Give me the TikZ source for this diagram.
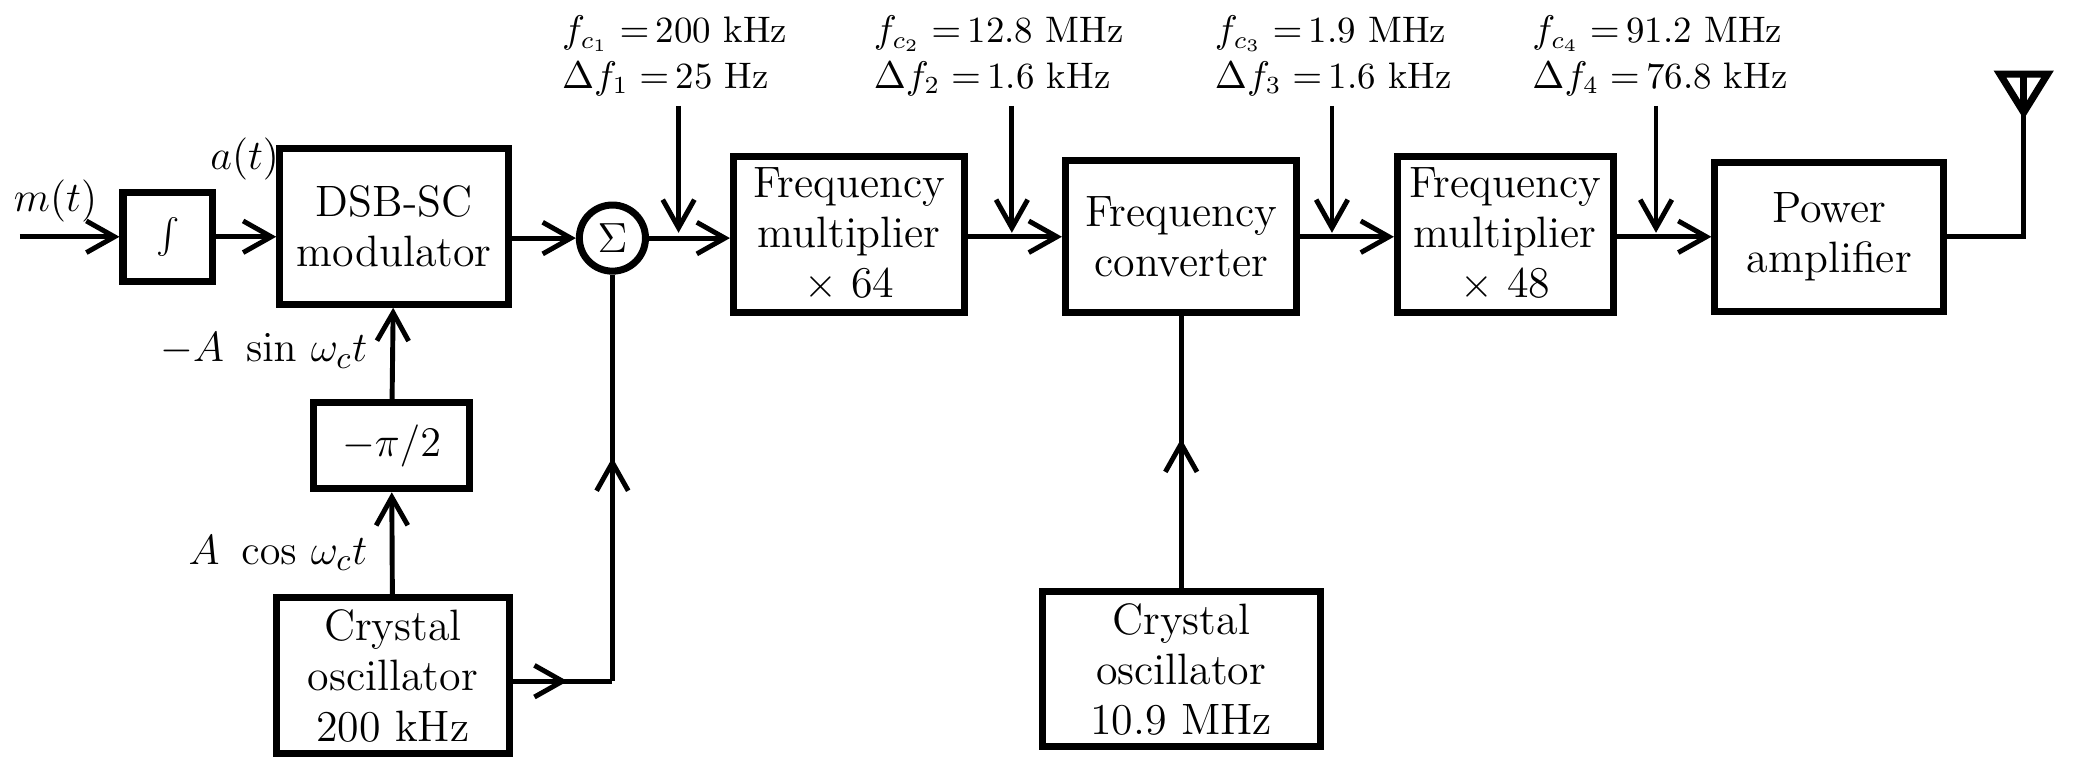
\documentclass[tikz,border=0pt]{standalone}
\usetikzlibrary{arrows.meta,decorations.markings}
\newlength\un \setlength\un{0.013227cm}
\begin{document}
\begin{tikzpicture}[x=\un,y=-\un,
  blk/.style={draw,line width=2pt,minimum width=#1\un,inner sep=0pt,align=center,font=\fontsize{12.5}{14.3}\selectfont},
  ln/.style={line width=1.4pt},
  arr/.style={ln,-{Straight Barb[length=8pt,width=9pt]}},
  mid/.style={ln,postaction={decorate},decoration={markings,mark=at position 0.55 with {\arrow{Straight Barb[length=8pt,width=9pt]}}}},
  lab/.style={font=\fontsize{10.5}{13}\selectfont,align=left}]
\useasboundingbox (0,0) rectangle (1568,584);
% boxes
\node[blk=68,minimum height=67\un] (int) at (127,179) {$\int$};
\node[blk=173,minimum height=118\un] (dsb) at (298,171) {DSB-SC\\modulator};
\node[draw,circle,line width=2pt,minimum size=50\un,inner sep=0pt,font=\fontsize{12}{13}\selectfont] (sum) at (463,180) {$\Sigma$};
\node[blk=175,minimum height=118\un] (m64) at (642,177) {Frequency\\multiplier\\$\times$ 64};
\node[blk=175,minimum height=115\un] (conv) at (893,179) {Frequency\\converter};
\node[blk=163,minimum height=118\un] (m48) at (1138,177) {Frequency\\multiplier\\$\times$ 48};
\node[blk=173,minimum height=113\un] (pa) at (1383,179) {Power\\amplifier};
\node[blk=118,minimum height=65\un] (ph) at (296,337) {$-\pi/2$};
\node[blk=176,minimum height=118\un] (xo1) at (297,511) {Crystal\\oscillator\\200 kHz};
\node[blk=210,minimum height=117\un] (xo2) at (893,506) {Crystal\\oscillator\\10.9 MHz};
% signal path
\coordinate (in) at (15,179);
\draw[arr] (in) -- (int);
\node[font=\fontsize{13}{14}\selectfont] (mt) at (42,152) {$m(t)$};
\draw[arr] (int) -- (dsb.west|-int);
\node[font=\fontsize{13}{14}\selectfont] (at) at (185,120) {$a(t)$};
\draw[arr] (dsb.east|-sum) -- (sum);
\draw[arr] (sum) -- (m64.west|-sum);
\draw[arr] (m64.east|-conv) -- (conv);
\draw[arr] (conv) -- (m48.west|-conv);
\draw[arr] (m48.east|-pa) -- (pa);
% down arrows and labels
\foreach \x/\lx/\n/\f/\d in {513/510/1/200 kHz/25 Hz,765/755/2/12.8 MHz/1.6 kHz,1007/1008/3/1.9 MHz/1.6 kHz,1252/1255/4/91.2 MHz/76.8 kHz}{
  \coordinate (t\n) at (\x,80);
  \coordinate (b\n) at (\x,176);
  \draw[arr] (t\n) -- (b\n);
  \node[lab] (L\n) at (\lx,42) {$f_{c_{\n}}=\,$\f\\$\Delta f_{\n}=\,$\d};
}
% antenna
\coordinate (a1) at (1530,179);
\coordinate (a2) at (1530,58);
\draw[ln] (pa.east|-a1) -- (a1) -- (a2);
\draw[line width=2pt] (1512,56) -- (1548,56) -- (1530,85) -- cycle;
\draw[line width=2pt] (1530,56) -- (1530,85);
% oscillator paths
\draw[arr] (xo1) -- (ph);
\node[font=\fontsize{13}{14}\selectfont,anchor=east] (acos) at (287,418) {$A\ \cos\,\omega_c t$};
\draw[arr] (ph) -- (dsb);
\node[font=\fontsize{13}{14}\selectfont,anchor=east] (asin) at (287,265) {$-A\ \sin\,\omega_c t$};
\coordinate (c1) at (463,515);
\draw[mid] (xo1.east|-c1) -- (c1);
\draw[mid] (c1) -- (sum.south);
\draw[mid] (xo2) -- (conv);
\end{tikzpicture}
\end{document}
